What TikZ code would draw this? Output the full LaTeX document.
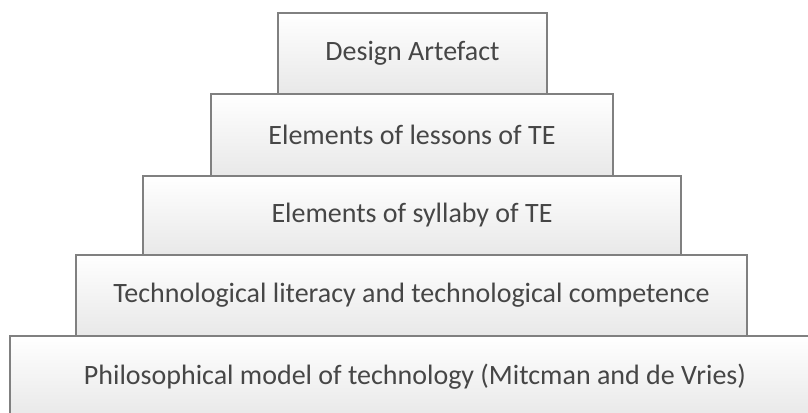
\documentclass[tikz,border=0pt]{standalone}
\usepackage{fontspec}
\setmainfont{Carlito}
\definecolor{layerline}{RGB}{128,128,128}
\definecolor{layertext}{RGB}{70,70,70}
\tikzset{
  layer/.style={draw=layerline, line width=1.2pt, top color=white, bottom color=black!9,
    rectangle, inner sep=0pt, text=layertext,
    font=\fontsize{21}{25}\selectfont},
}
\begin{document}
\begin{tikzpicture}[x=0.75pt,y=0.75pt,yscale=-1]
\useasboundingbox (0,0) rectangle (808,412);
\clip (0,0) rectangle (808,412);

% Layers, bottom first
\node [layer, minimum width=810*0.75pt, minimum height=82*0.75pt] (philo) at (415,377) {Philosophical model of technology (Mitcman and de Vries)};
\node [layer, minimum width=671*0.75pt, minimum height=81*0.75pt] (literacy) at (411.5,295.5) {Technological literacy and technological competence};
\node [layer, minimum width=538*0.75pt, minimum height=79*0.75pt] (syllaby) at (412,215.5) {Elements of syllaby of TE};
\node [layer, minimum width=402*0.75pt, minimum height=82*0.75pt] (lessons) at (412,135) {Elements of lessons of TE};
\node [layer, minimum width=269*0.75pt, minimum height=81*0.75pt] (artefact) at (412.5,53.5) {Design Artefact};

\end{tikzpicture}
\end{document}
